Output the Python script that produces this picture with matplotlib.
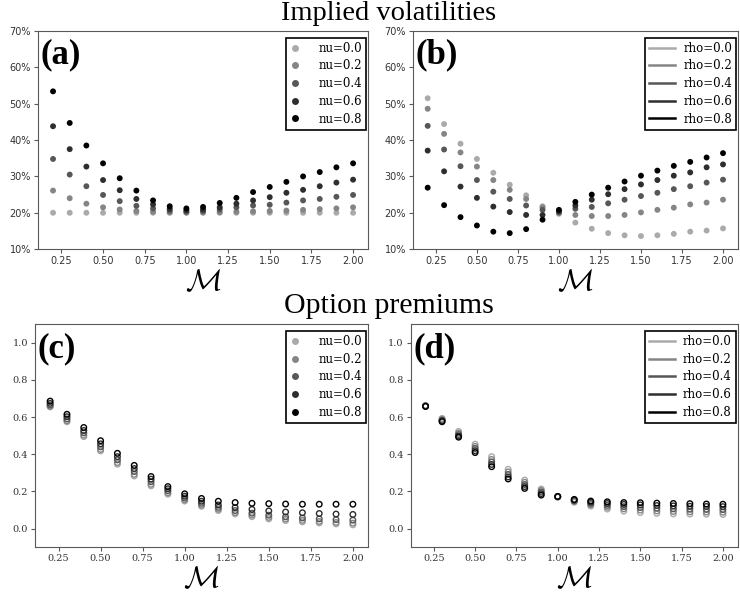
import numpy as np
import matplotlib
matplotlib.use('Agg')
import matplotlib.pyplot as plt
from matplotlib.lines import Line2D
from matplotlib.ticker import PercentFormatter

plt.rcParams['mathtext.fontset'] = 'cm'
plt.rcParams['axes.edgecolor'] = '0.35'
plt.rcParams['xtick.color'] = '0.35'
plt.rcParams['ytick.color'] = '0.35'
plt.rcParams['xtick.labelcolor'] = '0.2'
plt.rcParams['ytick.labelcolor'] = '0.2'

# ---- data ------------------------------------------------------------
moneyness = [0.2, 0.3, 0.4, 0.5, 0.6, 0.7, 0.8, 0.9, 1.0, 1.1,
             1.2, 1.3, 1.4, 1.5, 1.6, 1.7, 1.8, 1.9, 2.0]

nu_labels = ["nu=0.0", "nu=0.2", "nu=0.4", "nu=0.6", "nu=0.8"]
rho_labels = ["rho=0.0", "rho=0.2", "rho=0.4", "rho=0.6", "rho=0.8"]

# (a) implied vol (%) vs nu
iv_nu0 = [20.0] * 19
iv_nu2 = [26.1, 24.0, 22.5, 21.5, 20.9, 20.5, 20.3, 20.1, 20.05, 20.1,
          20.15, 20.3, 20.4, 20.5, 20.6, 20.8, 21.0, 21.2, 21.5]
iv_nu4 = [34.8, 30.5, 27.3, 24.9, 23.2, 21.9, 21.2, 20.6, 20.3, 20.5,
          20.9, 21.5, 22.0, 22.2, 22.8, 23.4, 23.8, 24.4, 24.9]
iv_nu6 = [43.8, 37.5, 32.7, 29.0, 26.2, 23.8, 22.3, 21.1, 20.7, 20.9,
          21.5, 22.5, 23.4, 24.3, 25.5, 26.3, 27.3, 28.3, 29.1]
iv_nu8 = [53.4, 44.7, 38.5, 33.6, 29.5, 26.1, 23.4, 21.8, 21.2, 21.6,
          22.7, 24.1, 25.7, 27.1, 28.5, 30.0, 31.2, 32.5, 33.6]

# (b) implied vol (%) vs rho
iv_rho0 = [51.5, 44.4, 39.0, 34.8, 31.0, 27.7, 24.8, 21.8, 19.7, 17.3,
           15.6, 14.4, 13.8, 13.6, 13.8, 14.2, 14.8, 15.1, 15.7]
iv_rho2 = [48.6, 41.7, 36.6, 32.7, 29.0, 26.3, 23.8, 21.5, 20.0, 19.4,
           19.1, 19.1, 19.4, 20.1, 20.8, 21.4, 22.3, 22.8, 23.6]
iv_rho4 = [43.9, 37.4, 32.8, 29.0, 25.8, 23.8, 22.0, 20.8, 20.1, 21.1,
           21.6, 22.6, 23.6, 24.6, 25.5, 26.5, 27.3, 28.3, 29.1]
iv_rho6 = [37.1, 31.4, 27.2, 24.1, 21.7, 20.2, 19.4, 19.4, 20.5, 22.0,
           23.6, 25.1, 26.5, 27.8, 29.0, 30.2, 31.1, 32.5, 33.3]
iv_rho8 = [26.9, 22.1, 18.8, 16.5, 14.8, 14.4, 15.5, 18.1, 20.8, 23.0,
           25.0, 26.9, 28.6, 30.2, 31.6, 32.9, 34.0, 35.2, 36.4]

# (c) option premium vs nu
pr_nu0 = [0.655, 0.575, 0.495, 0.418, 0.346, 0.283, 0.230, 0.185, 0.148, 0.120,
          0.097, 0.079, 0.064, 0.052, 0.043, 0.036, 0.030, 0.025, 0.020]
pr_nu2 = [0.658, 0.580, 0.502, 0.426, 0.355, 0.292, 0.238, 0.192, 0.155, 0.126,
          0.104, 0.086, 0.072, 0.060, 0.051, 0.044, 0.038, 0.033, 0.029]
pr_nu4 = [0.665, 0.590, 0.515, 0.440, 0.370, 0.307, 0.252, 0.203, 0.164, 0.136,
          0.114, 0.097, 0.083, 0.072, 0.063, 0.057, 0.052, 0.048, 0.045]
pr_nu6 = [0.674, 0.602, 0.528, 0.456, 0.387, 0.323, 0.266, 0.214, 0.174, 0.147,
          0.127, 0.113, 0.103, 0.095, 0.089, 0.085, 0.081, 0.078, 0.076]
pr_nu8 = [0.686, 0.615, 0.544, 0.473, 0.405, 0.340, 0.280, 0.226, 0.187, 0.162,
          0.147, 0.140, 0.136, 0.134, 0.132, 0.131, 0.131, 0.131, 0.131]

# (d) option premium vs rho
pr_rho0 = [0.662, 0.593, 0.523, 0.454, 0.387, 0.319, 0.261, 0.213, 0.170, 0.142,
           0.121, 0.105, 0.094, 0.086, 0.082, 0.079, 0.078, 0.077, 0.076]
pr_rho2 = [0.661, 0.588, 0.514, 0.442, 0.372, 0.305, 0.249, 0.205, 0.170, 0.146,
           0.128, 0.115, 0.106, 0.099, 0.095, 0.092, 0.090, 0.089, 0.088]
pr_rho4 = [0.660, 0.583, 0.506, 0.431, 0.358, 0.291, 0.237, 0.197, 0.171, 0.150,
           0.135, 0.125, 0.118, 0.113, 0.109, 0.106, 0.104, 0.103, 0.102]
pr_rho6 = [0.659, 0.579, 0.498, 0.419, 0.345, 0.278, 0.226, 0.188, 0.172, 0.154,
           0.142, 0.135, 0.130, 0.127, 0.124, 0.122, 0.120, 0.119, 0.118]
pr_rho8 = [0.657, 0.575, 0.492, 0.409, 0.333, 0.267, 0.216, 0.180, 0.173, 0.157,
           0.148, 0.144, 0.140, 0.139, 0.137, 0.135, 0.134, 0.132, 0.131]

greys = ['#aaaaaa', '#858585', '#575757', '#2e2e2e', '#000000']

# ---- figure ------------------------------------------------------------
fig = plt.figure(figsize=(7.4, 5.96), dpi=100)
ax_a = fig.add_axes([0.0514, 0.582, 0.446, 0.366])
ax_b = fig.add_axes([0.558, 0.582, 0.439, 0.366])
ax_c = fig.add_axes([0.0473, 0.082, 0.450, 0.374])
ax_d = fig.add_axes([0.555, 0.082, 0.442, 0.374])

fig.text(0.525, 0.9665, "Implied volatilities", ha="center", va="baseline",
         fontsize=20.5, family="Liberation Serif")
fig.text(0.525, 0.474, "Option premiums", ha="center", va="baseline",
         fontsize=21.5, family="Liberation Serif")

def dot_handles():
    return [Line2D([], [], ls="none", marker="o", ms=5, mec="none", mfc=c) for c in greys]

def line_handles():
    return [Line2D([], [], color=c, lw=1.8) for c in greys]

def style(ax, tag, handles, labels, top, dots):
    ax.text(0.008, 0.965, tag, transform=ax.transAxes, ha="left", va="top",
            fontsize=25, fontweight="bold", family="Liberation Serif")
    if dots:
        hl, hp = 0.8, 1.6
    else:
        hl, hp = 2.2, 0.7
    leg = ax.legend(handles, labels, loc="upper right", bbox_to_anchor=(0.995, 0.97),
                    fancybox=False, framealpha=1, edgecolor="black",
                    prop={"family": "DejaVu Serif", "size": 8.5},
                    borderaxespad=0.0, handlelength=hl, handletextpad=hp,
                    labelspacing=0.4, borderpad=0.35)
    leg.get_frame().set_linewidth(1.2)
    ax.set_xlabel(r"$\mathcal{M}$", fontsize=22, labelpad=1)
    ax.set_xticks([0.25, 0.5, 0.75, 1.0, 1.25, 1.5, 1.75, 2.0])
    ax.tick_params(length=3, width=0.8, labelsize=7, pad=2)
    fam = "DejaVu Sans" if top else "DejaVu Serif"
    for lab in ax.get_xticklabels() + ax.get_yticklabels():
        lab.set_family(fam)

iv_nu = [iv_nu0, iv_nu2, iv_nu4, iv_nu6, iv_nu8]
iv_rho = [iv_rho0, iv_rho2, iv_rho4, iv_rho6, iv_rho8]
pr_nu = [pr_nu0, pr_nu2, pr_nu4, pr_nu6, pr_nu8]
pr_rho = [pr_rho0, pr_rho2, pr_rho4, pr_rho6, pr_rho8]

for i in range(5):
    ax_a.scatter(moneyness, iv_nu[i], s=18, color=greys[i], edgecolors="none")
    ax_b.scatter(moneyness, iv_rho[i], s=18, color=greys[i], edgecolors="none")
    ax_c.scatter(moneyness, pr_nu[i], s=16, facecolors="none", edgecolors=greys[i], linewidths=1.0)
    ax_d.scatter(moneyness, pr_rho[i], s=16, facecolors="none", edgecolors=greys[i], linewidths=1.0)

for ax in (ax_a, ax_b):
    ax.set_ylim(10, 70)
    ax.set_yticks([10, 20, 30, 40, 50, 60, 70])
    ax.yaxis.set_major_formatter(PercentFormatter(100, decimals=0))
for ax in (ax_c, ax_d):
    ax.set_ylim(-0.1, 1.1)
    ax.set_yticks([0.0, 0.2, 0.4, 0.6, 0.8, 1.0])

style(ax_a, "(a)", dot_handles(), nu_labels, True, True)
style(ax_b, "(b)", line_handles(), rho_labels, True, False)
style(ax_c, "(c)", dot_handles(), nu_labels, False, True)
style(ax_d, "(d)", line_handles(), rho_labels, False, False)

plt.savefig("out.png", dpi=100)
